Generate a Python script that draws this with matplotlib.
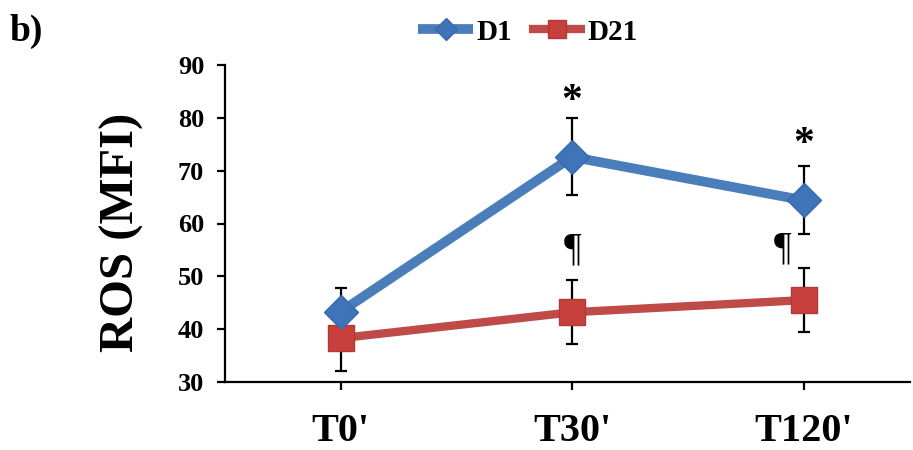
import matplotlib
matplotlib.use("Agg")
import matplotlib.pyplot as plt
import numpy as np

categories = ["T0'", "T30'", "T120'"]
d1_mean = [43.3, 72.6, 64.4]
d1_err = [4.4, 7.3, 6.4]
d21_mean = [38.3, 43.2, 45.5]
d21_err = [6.2, 6.1, 6.0]
star_y = [None, 83.0, 74.9]
para_y = [None, 55.0, 55.2]
y_ticks = [30, 40, 50, 60, 70, 80, 90]

serif = "Liberation Serif"
plt.rcParams['font.family'] = serif

fig = plt.figure(figsize=(9.13, 4.5), dpi=100)
ax = fig.add_axes([225/913, 1-382/450, (910-225)/913, (382-65)/450])

x = np.arange(len(categories))
blue = "#4A7EBB"
blue_m = "#3F74B8"
red = "#BE4B48"
red_m = "#C8403C"

ax.errorbar(x, d1_mean, yerr=d1_err, fmt='none', ecolor='black', elinewidth=1.6,
            capsize=4.5, capthick=1.6, zorder=2)
ax.errorbar(x, d21_mean, yerr=d21_err, fmt='none', ecolor='black', elinewidth=1.6,
            capsize=4.5, capthick=1.6, zorder=2)
l1, = ax.plot(x, d1_mean, color=blue, lw=7, marker='D', markersize=17,
              markerfacecolor=blue_m, markeredgecolor="#3868A8", markeredgewidth=1,
              zorder=4, label='D1', solid_capstyle='butt')
l2, = ax.plot(x, d21_mean, color=red, lw=6, marker='s', markersize=19,
              markerfacecolor=red_m, markeredgecolor="#B03A37", markeredgewidth=1,
              zorder=3, label='D21', solid_capstyle='butt')

for i in range(len(categories)):
    if star_y[i] is not None:
        ax.text(x[i], star_y[i], "*", ha='center', va='center', fontsize=30,
                fontweight='bold', family=serif, zorder=5)
    if para_y[i] is not None:
        xo = x[i] if i == 1 else x[i] - 0.09
        ax.text(xo, para_y[i], "¶", ha='center', va='center', fontsize=28,
                family=serif, zorder=5)

ax.set_xlim(-0.5, 2.46)
ax.set_ylim(30, 90)
ax.set_yticks(y_ticks)
ax.set_xticks(x)
ax.set_xticklabels(categories, fontsize=29, fontweight='bold')
ax.set_yticklabels([str(v) for v in y_ticks], fontsize=19, fontweight='bold')
ax.tick_params(axis='y', direction='out', length=6, width=1.6, pad=9)
ax.tick_params(axis='x', direction='out', length=6, width=1.6, pad=16)
for s in ['top', 'right']:
    ax.spines[s].set_visible(False)
for s in ['left', 'bottom']:
    ax.spines[s].set_linewidth(1.6)

fig.text(122/913, 1-232/450, "ROS (MFI)", rotation=90, ha='center', va='center',
         fontsize=35, fontweight='bold')
fig.text(9/913, 1-31/450, "b)", ha='left', va='center', fontsize=27, fontweight='bold')

fig.legend(handles=[l1, l2], loc='center', bbox_to_anchor=(528/913, 1-32/450), ncol=2,
           frameon=False, prop={'family': serif, 'weight': 'bold', 'size': 21},
           handlelength=1.9, handletextpad=0.1, columnspacing=0.6, markerscale=0.65)

fig.savefig("out.png", dpi=100)
